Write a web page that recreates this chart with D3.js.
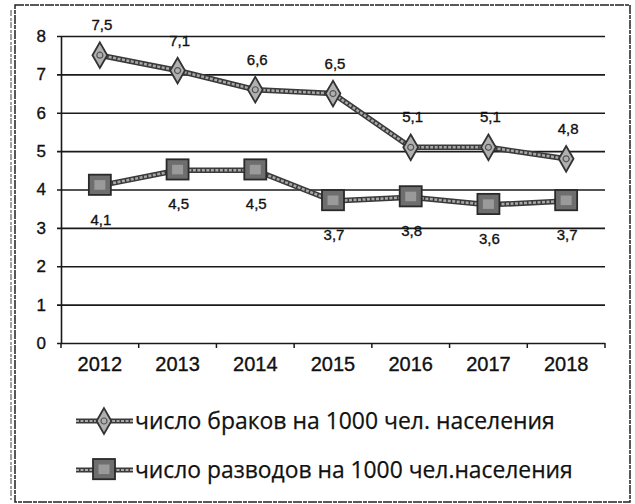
<!DOCTYPE html>
<html>
<head>
<meta charset="utf-8">
<script src="https://cdn.jsdelivr.net/npm/d3@7"></script>
<style>
  body { margin: 0; background: #fff; }
  text { font-family: "Liberation Sans", Arial, sans-serif; fill: #111; stroke: #111; stroke-width: 0.35px; }
  .legend text { font-family: "Open Sans", "Noto Sans", sans-serif; stroke-width: 0.25px; }
</style>
</head>
<body>
<script>
const w = 635;
const h = 504;

// data
const years = ["2012", "2013", "2014", "2015", "2016", "2017", "2018"];
const marriages = [7.5, 7.1, 6.6, 6.5, 5.1, 5.1, 4.8];
const divorces = [4.1, 4.5, 4.5, 3.7, 3.8, 3.6, 3.7];
const seriesNames = [
  "число браков на 1000 чел. населения",
  "число разводов на 1000 чел.населения"
];
const yTicks = [0, 1, 2, 3, 4, 5, 6, 7, 8];

const svg = d3.select("body").append("svg")
  .attr("width", w)
  .attr("height", h);

// scanned frame
svg.append("rect")
  .attr("x", 15).attr("y", 5)
  .attr("width", 615).attr("height", 497)
  .attr("fill", "none")
  .attr("stroke", "#222")
  .attr("stroke-width", 1.5)
  .attr("stroke-dasharray", "9,1,4,1");
svg.append("line")
  .attr("x1", 11).attr("x2", 11)
  .attr("y1", 10).attr("y2", 500)
  .attr("stroke", "#444")
  .attr("stroke-width", 1)
  .attr("stroke-dasharray", "6,2,3,1");

const x = d3.scaleBand().domain(years).range([61, 605]);
const y = d3.scaleLinear().domain([0, 8]).range([343, 36]);
const cx = d => x(d) + x.bandwidth() / 2;

// gridlines
svg.append("g")
  .attr("class", "grid")
  .attr("transform", "translate(57,0)")
  .call(d3.axisRight(y).tickValues(yTicks).tickSize(548).tickFormat(""))
  .call(g => g.select(".domain").remove())
  .call(g => g.selectAll("line").attr("stroke", "#1a1a1a").attr("stroke-width", 1.6));

// y axis
svg.append("g")
  .attr("transform", "translate(61,0)")
  .call(d3.axisLeft(y).tickValues(yTicks).tickSize(0).tickPadding(15))
  .call(g => g.select(".domain").attr("stroke", "#1a1a1a").attr("stroke-width", 1.6))
  .call(g => g.selectAll("text").style("font-size", "17px").attr("fill", "#111"));

// x axis
svg.append("g")
  .attr("transform", "translate(0," + y(0) + ")")
  .call(d3.axisBottom(x).tickSize(0).tickPadding(14))
  .call(g => g.select(".domain").remove())
  .call(g => g.selectAll("text").style("font-size", "20px").attr("fill", "#111"));

svg.append("g")
  .selectAll("line")
  .data(years.map(d => x(d)).concat([x.range()[1]]))
  .enter()
  .append("line")
  .attr("x1", d => d).attr("x2", d => d)
  .attr("y1", y(0)).attr("y2", y(0) + 5)
  .attr("stroke", "#1a1a1a")
  .attr("stroke-width", 1.5);

const line = d3.line().x(d => cx(d.year)).y(d => y(d.value));
const rows1 = years.map((d, i) => ({ year: d, value: marriages[i] }));
const rows2 = years.map((d, i) => ({ year: d, value: divorces[i] }));

function drawLine(rows) {
  svg.append("path").datum(rows)
    .attr("d", line).attr("fill", "none")
    .attr("stroke", "#3a3a3a").attr("stroke-width", 5.5);
  svg.append("path").datum(rows)
    .attr("d", line).attr("fill", "none")
    .attr("stroke", "#a8a8a8").attr("stroke-width", 2.5)
    .attr("stroke-dasharray", "3,1.5");
}

function diamond(g, s) {
  g.append("path")
    .attr("d", d3.symbol().type(d3.symbolDiamond).size(s)())
    .attr("fill", "#b0b0b0").attr("stroke", "#333").attr("stroke-width", 1.8);
  g.append("circle").attr("r", 3).attr("fill", "none")
    .attr("stroke", "#555").attr("stroke-width", 1.2);
}

function square(g, s) {
  g.append("rect")
    .attr("x", -s / 2).attr("y", -s / 2)
    .attr("width", s).attr("height", s * 0.92)
    .attr("fill", "#6e6e6e").attr("stroke", "#2a2a2a").attr("stroke-width", 1.8);
  g.append("rect")
    .attr("x", -s / 4).attr("y", -s / 4)
    .attr("width", s / 2).attr("height", s / 2.3)
    .attr("fill", "#9a9a9a");
}

drawLine(rows1);
drawLine(rows2);

svg.append("g").selectAll("g")
  .data(rows1).enter().append("g")
  .attr("transform", d => "translate(" + cx(d.year) + "," + y(d.value) + ")")
  .each(function() { diamond(d3.select(this), 190); });

svg.append("g").selectAll("g")
  .data(rows2).enter().append("g")
  .attr("transform", d => "translate(" + cx(d.year) + "," + y(d.value) + ")")
  .each(function() { square(d3.select(this), 22); });

const fmt = v => d3.format(".1f")(v).replace(".", ",");

// data labels
svg.append("g").selectAll("text")
  .data(rows1).enter().append("text")
  .attr("x", d => cx(d.year) + 2)
  .attr("y", d => y(d.value) - 25)
  .attr("text-anchor", "middle")
  .style("font-size", "15px")
  .text(d => fmt(d.value));

svg.append("g").selectAll("text")
  .data(rows2).enter().append("text")
  .attr("x", d => cx(d.year) + 1)
  .attr("y", d => y(d.value) + 39)
  .attr("text-anchor", "middle")
  .style("font-size", "15px")
  .text(d => fmt(d.value));

// legend
const legend = svg.append("g").attr("class", "legend");
const legendY = [421, 470];
const legendEnd = [555, 573];

seriesNames.forEach((name, i) => {
  const g = legend.append("g").attr("transform", "translate(0," + legendY[i] + ")");
  g.append("line").attr("x1", 76).attr("x2", 133).attr("y1", 0).attr("y2", 0)
    .attr("stroke", "#3a3a3a").attr("stroke-width", 5);
  g.append("line").attr("x1", 76).attr("x2", 133).attr("y1", 0).attr("y2", 0)
    .attr("stroke", "#a8a8a8").attr("stroke-width", 2).attr("stroke-dasharray", "3,1.5");
  const m = g.append("g").attr("transform", "translate(104,0)");
  if (i === 0) diamond(m, 190); else square(m, 22);
  const t = g.append("text")
    .attr("x", 135).attr("y", 0).attr("dy", "0.35em")
    .style("font-size", "22px")
    .text(name);
  const len = t.node().getComputedTextLength();
  t.style("font-size", (22 * (legendEnd[i] - 135) / len) + "px");
});
</script>
</body>
</html>
